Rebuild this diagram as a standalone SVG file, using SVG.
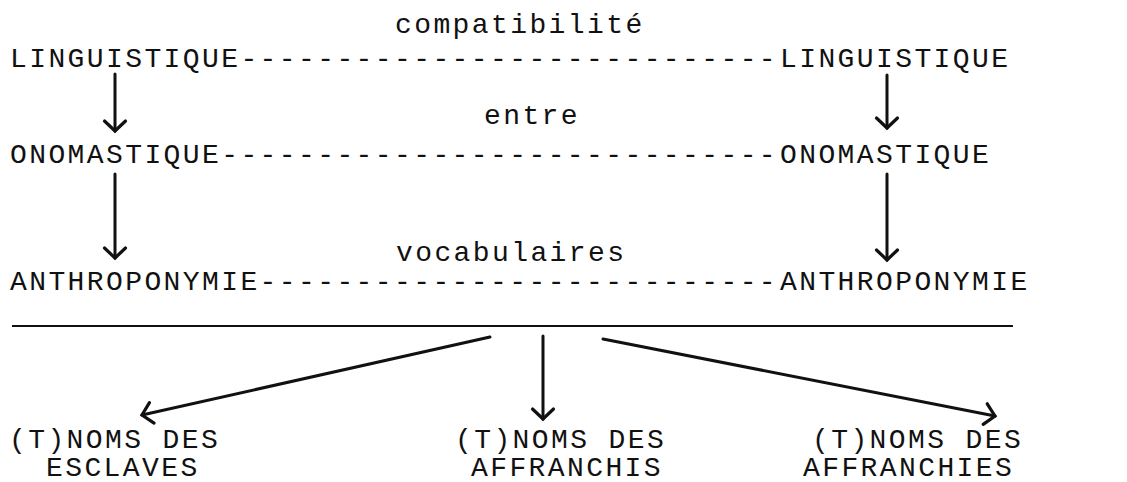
<svg xmlns="http://www.w3.org/2000/svg" width="1127" height="482" viewBox="0 0 1127 482">
<defs>
<style>
text{font-family:"Liberation Mono","DejaVu Sans Mono",monospace;font-size:28px;letter-spacing:2.4px;fill:#111}
.ar{fill:none;stroke:#111;stroke-width:3;stroke-linecap:round}
.rule{stroke:#111;stroke-width:2;fill:none}
</style>
<marker id="v" markerUnits="userSpaceOnUse" markerWidth="30" markerHeight="30" viewBox="-15 -15 30 30" refX="0" refY="0" orient="auto">
<path d="M-10,-10.5 L0,0 L-10,10.5" fill="none" stroke="#111" stroke-width="3.2" stroke-linecap="round" stroke-linejoin="miter"/>
</marker>
</defs>
<rect width="1127" height="482" fill="#fff"/>
<g id="labels">
<text x="395" y="33">compatibilité</text>
<text x="484" y="124">entre</text>
<text x="396" y="261">vocabulaires</text>
</g>
<g id="n-ling-l"><text x="10" y="67">LINGUISTIQUE</text></g>
<g id="n-ling-r"><text x="780" y="67">LINGUISTIQUE</text></g>
<g id="n-onom-l"><text x="10" y="163">ONOMASTIQUE</text></g>
<g id="n-onom-r"><text x="780" y="163">ONOMASTIQUE</text></g>
<g id="n-anth-l"><text x="10" y="290">ANTHROPONYMIE</text></g>
<g id="n-anth-r"><text x="780" y="290">ANTHROPONYMIE</text></g>
<g id="n-escl"><text x="9" y="448">(T)NOMS DES</text><text x="46" y="476">ESCLAVES</text></g>
<g id="n-affr"><text x="455" y="448">(T)NOMS DES</text><text x="471" y="476">AFFRANCHIS</text></g>
<g id="n-affrs"><text x="812" y="448">(T)NOMS DES</text><text x="803" y="476">AFFRANCHIES</text></g>
<g id="connectors">
<text x="240.4" y="67">----------------------------</text>
<text x="221.2" y="163">-----------------------------</text>
<text x="259.6" y="290">---------------------------</text>
<path class="ar" d="M115,74 L115,131" marker-end="url(#v)"/>
<path class="ar" d="M887,75 L887,128" marker-end="url(#v)"/>
<path class="ar" d="M115,174 L115,258" marker-end="url(#v)"/>
<path class="ar" d="M887,174 L887,260" marker-end="url(#v)"/>
<line class="rule" x1="12" y1="326" x2="1013" y2="326"/>
<path class="ar" d="M490,337 L142,415" marker-end="url(#v)"/>
<path class="ar" d="M543,336 L543,419" marker-end="url(#v)"/>
<path class="ar" d="M603,339 L995,416" marker-end="url(#v)"/>
</g>
</svg>
